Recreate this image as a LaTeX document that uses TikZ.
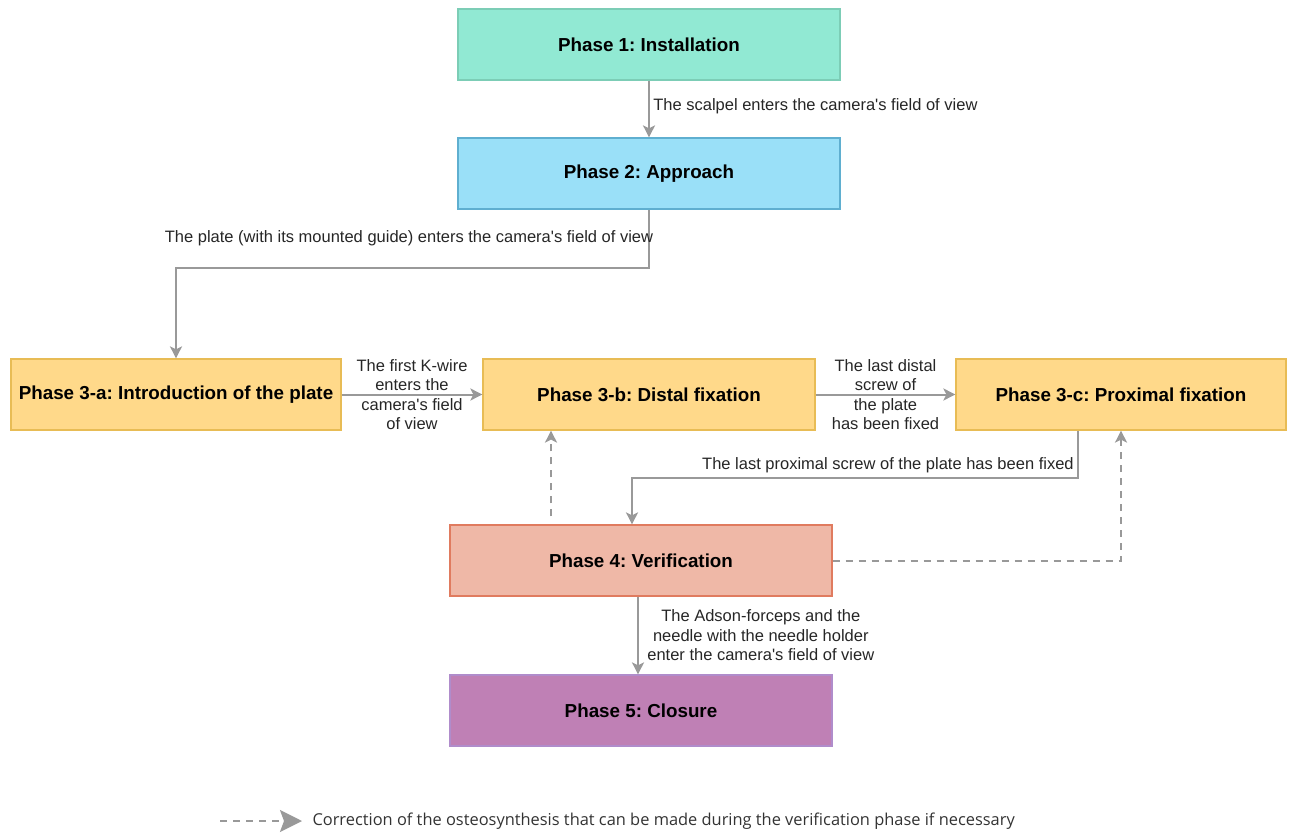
\documentclass[tikz,border=0pt]{standalone}
\usepackage{fontspec}
\setmainfont{Liberation Sans}[Ligatures=TeXOff]
\newfontfamily\legendfont{Open Sans}[Ligatures=TeXOff]
\usetikzlibrary{positioning}
\usetikzlibrary{arrows.meta}
\usetikzlibrary{calc}
\frenchspacing

\definecolor{instfill}{HTML}{91E9D3}
\definecolor{instdraw}{HTML}{7CCDB6}
\definecolor{apprfill}{HTML}{9AE0F8}
\definecolor{apprdraw}{HTML}{5FAFD0}
\definecolor{fixfill}{HTML}{FFD98A}
\definecolor{fixdraw}{HTML}{E8BC55}
\definecolor{veriffill}{HTML}{EFB8A7}
\definecolor{verifdraw}{HTML}{E07B5F}
\definecolor{closfill}{HTML}{BF80B5}
\definecolor{closdraw}{HTML}{B08CCB}
\definecolor{linegray}{HTML}{999999}
\definecolor{legtextcol}{HTML}{333333}

\begin{document}
\begin{tikzpicture}[ x = 1pt, y = -1pt
                     , font = \fontsize{16.5}{19.5}\selectfont
                     , >={Stealth[length=12pt, width=12pt, inset=3pt]}
                     , phase/.style = { rectangle
                                      , line width = 1.2pt
                                      , align = center
                                      , minimum width = 382pt
                                      , minimum height = 71pt
                                      , font = \fontsize{18.8}{22}\selectfont\bfseries }
                     , flow/.style = { draw = linegray, line width = 2pt }
                     , corr/.style = { draw = linegray, line width = 2pt
                                     , dash pattern = on 7pt off 6pt }
                     ]

  \useasboundingbox (0,0) rectangle (1296,834);

  %%
  %% Nodes
  %%
  \tikzset{ fix/.style={fill=fixfill, draw=fixdraw}
          , lbl/.style={text=black!85, align=center}
          }

  \node (inst) [phase, fill=instfill, draw=instdraw] at (649,44.5) {Phase 1: Installation};
  \node (appr) [phase, fill=apprfill, draw=apprdraw] at (649,173.5) {Phase 2: Approach};
  \node (intro) [phase, fix, minimum width=330pt] at (176,394.5) {Phase 3-a: Introduction of the plate};
  \node (distal) [phase, fix, minimum width=332pt] at (649,394.5) {Phase 3-b: Distal fixation};
  \node (prox) [phase, fix, minimum width=330pt] at (1121,394.5) {Phase 3-c: Proximal fixation};
  \node (verif) [phase, fill=veriffill, draw=verifdraw] at (641,560.5) {Phase 4: Verification};
  \node (clos) [phase, fill=closfill, draw=closdraw] at (641,710.5) {Phase 5: Closure};

  % Legend.
  \coordinate (legstart) at (220,821);
  \node (legtext) [anchor=west, text=legtextcol, font=\legendfont\fontsize{16.4}{19}\selectfont]
        at (309,821) {Correction of the osteosynthesis that can be made during the verification phase if necessary};

  %%
  %% Relationship between nodes (arrows)
  %%
  % Main sequence.
  \draw[flow, ->] (inst) -- node[lbl, right, yshift=3pt] {The scalpel enters the camera's field of view}
            (appr);
  \draw[flow, ->] (appr.south) -- ++(0,58)
            node[lbl, midway, xshift=-240pt] {The plate (with its mounted guide) enters the camera's field of view}
            -| (intro);
  \draw[flow, ->] (intro) -- node[lbl] {The first K-wire\\enters the\\camera's field\\of view}
            (distal);
  \draw[flow, ->] (distal) -- node[lbl] {The last distal\\screw of\\the plate\\has been fixed}
            (prox);
  \draw[flow, ->] ([xshift=-43pt]prox.south) -- ++(0,47)
            node[lbl, above left] {The last proximal screw of the plate has been fixed}
            -| ([xshift=-9pt]verif.north);
  \draw[flow, ->] ([xshift=-3pt]verif.south) -- node[lbl, right, xshift=5pt] {The Adson-forceps and the\\needle with the needle holder\\enter the camera's field of view}
            ([xshift=-3pt]clos.north);
  % Corrections (dashed).
  \coordinate (corrstart) at ([xshift=-90pt, yshift=8pt]verif.north);
  \draw[corr, ->] (corrstart) -- (corrstart |- distal.south);
  \draw[corr, ->] (verif) -| (prox);
  \draw[corr, -{Stealth[length=22pt, width=22pt, inset=4pt]}, shorten >=7pt] (legstart) -- (legtext);
\end{tikzpicture}
\end{document}
